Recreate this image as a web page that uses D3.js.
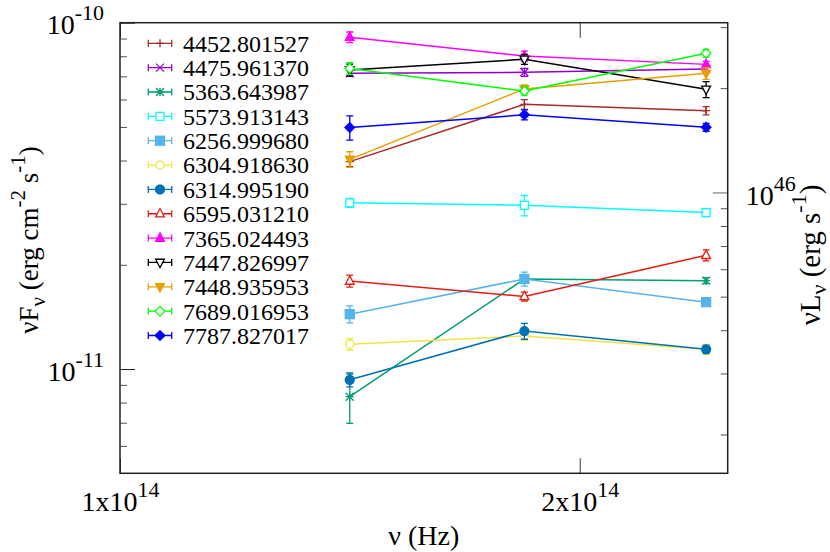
<!DOCTYPE html>
<html><head><meta charset="utf-8">
<script src="https://cdn.jsdelivr.net/npm/d3@7/dist/d3.min.js"></script>
<style>
body{margin:0;background:#fff}
svg{display:block}
</style>
</head><body>
<svg id="chart" width="830" height="552" font-family="'Liberation Serif', 'Times New Roman', Times, serif"></svg>
<script>
// ---------- data ----------
const categories = ["4452.801527","4475.961370","5363.643987","5573.913143","6256.999680","6304.918630","6314.995190","6595.031210","7365.024493","7447.826997","7448.935953","7689.016953","7787.827017"];
const freqHz = [1.414e14, 1.84e14, 2.42e14];
const f4452 = [3.97e-11, 5.81e-11, 5.57e-11], e4452 = [1.3e-12, 1.9e-12, 1.5e-12];
const f4475 = [7.14e-11, 7.19e-11, 7.35e-11], e4475 = [1.4e-12, 1.9e-12, 1.5e-12];
const f5363 = [8.32e-12, 1.82e-11, 1.80e-11], e5363 = [1.35e-12, 0.48e-12, 0.36e-12];
const f5573 = [3.02e-11, 2.97e-11, 2.83e-11], e5573 = [0.9e-12, 2.0e-12, 0.75e-12];
const f6256 = [1.44e-11, 1.82e-11, 1.56e-11], e6256 = [0.81e-12, 0.85e-12, 0.4e-12];
const f6304 = [1.18e-11, 1.245e-11, 1.14e-11], e6304 = [0.45e-12, 0.33e-12, 0.38e-12];
const f6314 = [9.31e-12, 1.287e-11, 1.14e-11], e6314 = [0.43e-12, 0.68e-12, 0.3e-12];
const f6595 = [1.795e-11, 1.62e-11, 2.13e-11], e6595 = [0.72e-12, 0.48e-12, 0.78e-12];
const f7365 = [9.08e-11, 8.01e-11, 7.58e-11], e7365 = [3.2e-12, 2.66e-12, 1.5e-12];
const f7447 = [7.30e-11, 7.84e-11, 6.42e-11], e7447 = [2.9e-12, 2.6e-12, 3.4e-12];
const f7448 = [4.03e-11, 6.44e-11, 7.14e-11], e7448 = [2.1e-12, 1.7e-12, 2.8e-12];
const f7689 = [7.38e-11, 6.35e-11, 8.16e-11], e7689 = [2.9e-12, 1.7e-12, 2.2e-12];
const f7787 = [4.98e-11, 5.42e-11, 4.99e-11], e7787 = [4.0e-12, 1.8e-12, 1.3e-12];
const fluxes = [f4452,f4475,f5363,f5573,f6256,f6304,f6314,f6595,f7365,f7447,f7448,f7689,f7787];
const errors = [e4452,e4475,e5363,e5573,e6256,e6304,e6314,e6595,e7365,e7447,e7448,e7689,e7787];

const xTickValues = [1e14, 2e14];
const xTickLabels = [["1x10","14"],["2x10","14"]];
const yTickValues = [1e-11, 1e-10];
const yTickLabels = [["10","-11"],["10","-10"]];
const yMinorTicks = [6e-12,7e-12,8e-12,9e-12,2e-11,3e-11,4e-11,5e-11,6e-11,7e-11,8e-11,9e-11];
const y2TickValues = [1e46];
const y2TickLabels = [["10","46"]];
const y2MinorTicks = [2e45,3e45,4e45,5e45,6e45,7e45,8e45,9e45,2e46,3e46];
const lumFactor = 3.09e56;

// ---------- styles ----------
const colors = ["#a52a2a","#9400d3","#009e73","#00ffff","#56b4e9","#f0e442","#0072b2","#e51e10","#ff00ff","#000000","#e69f00","#00ff00","#0000ff"];
const markers = ["plus","cross","star","box","boxF","circle","circleF","tri","triF","triD","triDF","dia","diaF"];

// ---------- layout ----------
const L = 120, R = 727.7, T = 22.7, B = 473.3;
const svg = d3.select("#chart");
const x = d3.scaleLog().domain([1e14, 2.5e14]).range([L, R]);
const y = d3.scaleLog().domain([5e-12, 1e-10]).range([B, T]);
const y2 = d3.scaleLog().domain([5e-12*lumFactor, 1e-10*lumFactor]).range([B, T]);

const TF = 28, SUP = 22;

function supText(sel, parts) {
  sel.append("tspan").text(parts[0]);
  sel.append("tspan").attr("font-size", SUP).attr("dy", -14).text(parts[1]);
}

function styleAxis(g, color) {
  g.attr("font-family", null).attr("font-size", null);
  g.select(".domain").remove();
  g.selectAll(".tick line").attr("stroke", color).attr("stroke-width", 1);
  g.selectAll(".tick text").remove();
}
// left major
const gl = svg.append("g").attr("transform", `translate(${L},0)`)
  .call(d3.axisLeft(y).tickValues(yTickValues).tickSize(-15).tickFormat(""));
styleAxis(gl, "#222");
gl.selectAll(".tick").append("text").attr("x", -16).attr("y", 11)
  .attr("text-anchor", "end").attr("font-size", TF).attr("fill", "#000")
  .each(function(d, i){ supText(d3.select(this), yTickLabels[i]); });
// left minor
const glm = svg.append("g").attr("transform", `translate(${L},0)`)
  .call(d3.axisLeft(y).tickValues(yMinorTicks).tickSize(-7).tickFormat(""));
styleAxis(glm, "#555");
// right major
const gr = svg.append("g").attr("transform", `translate(${R},0)`)
  .call(d3.axisRight(y2).tickValues(y2TickValues).tickSize(-15).tickFormat(""));
styleAxis(gr, "#999");
gr.selectAll(".tick line").attr("stroke-width", 1.5);
gr.selectAll(".tick").append("text").attr("x", 18).attr("y", 12)
  .attr("text-anchor", "start").attr("font-size", TF).attr("fill", "#000")
  .each(function(d, i){ supText(d3.select(this), y2TickLabels[i]); });
const grm = svg.append("g").attr("transform", `translate(${R},0)`)
  .call(d3.axisRight(y2).tickValues(y2MinorTicks).tickSize(-7).tickFormat(""));
styleAxis(grm, "#555");
// bottom
const gb = svg.append("g").attr("transform", `translate(0,${B})`)
  .call(d3.axisBottom(x).tickValues(xTickValues).tickSize(-15).tickFormat(""));
styleAxis(gb, "#333");
gb.selectAll(".tick").append("text").attr("x", 0).attr("y", 38)
  .attr("text-anchor", "middle").attr("font-size", TF).attr("fill", "#000")
  .each(function(d, i){ supText(d3.select(this), xTickLabels[i]); });
// top
const gt = svg.append("g").attr("transform", `translate(0,${T})`)
  .call(d3.axisTop(x).tickValues(xTickValues).tickSize(-15).tickFormat(""));
styleAxis(gt, "#333");

// border
svg.append("rect").attr("x", L).attr("y", T).attr("width", R - L).attr("height", B - T)
  .attr("fill", "none").attr("stroke", "#222").attr("stroke-width", 1.5);

// axis labels
const LF = 27, LS = 21;
const yl = svg.append("text").attr("transform", "translate(38,240) rotate(-90)")
  .attr("text-anchor", "middle").attr("font-size", LF);
yl.append("tspan").text("νF");
yl.append("tspan").attr("font-size", LS).attr("dy", 7).text("ν");
yl.append("tspan").attr("dy", -7).text(" (erg cm");
yl.append("tspan").attr("font-size", LS).attr("dy", -13).text("-2");
yl.append("tspan").attr("dy", 13).text(" s");
yl.append("tspan").attr("font-size", LS).attr("dy", -13).text("-1");
yl.append("tspan").attr("dy", 13).text(")");

const y2l = svg.append("text").attr("transform", "translate(820,255) rotate(-90)")
  .attr("text-anchor", "middle").attr("font-size", 29);
y2l.append("tspan").text("νL");
y2l.append("tspan").attr("font-size", 22).attr("dy", 6).text("ν");
y2l.append("tspan").attr("dy", -6).text(" (erg s");
y2l.append("tspan").attr("font-size", 22).attr("dy", -14).text("-1");
y2l.append("tspan").attr("dy", 14).text(")");

svg.append("text").attr("x", (L + R) / 2).attr("y", 545).attr("text-anchor", "middle")
  .attr("font-size", TF).text("ν (Hz)");

// markers
function drawMarker(g, type, color) {
  const s = 4;
  const st = (p) => p.attr("stroke", color).attr("stroke-width", 1.3);
  switch (type) {
    case "plus": st(g.append("path").attr("fill","none").attr("d", `M${-s},0H${s}M0,${-s}V${s}`)); break;
    case "cross": st(g.append("path").attr("fill","none").attr("d", `M${-s},${-s}L${s},${s}M${-s},${s}L${s},${-s}`)); break;
    case "star": st(g.append("path").attr("fill","none").attr("d", `M${-s},0H${s}M0,${-s}V${s}M${-s},${-s}L${s},${s}M${-s},${s}L${s},${-s}`)); break;
    case "box": st(g.append("rect").attr("x",-s).attr("y",-s).attr("width",2*s).attr("height",2*s).attr("fill","#fff")); break;
    case "boxF": st(g.append("rect").attr("x",-s-0.5).attr("y",-s-0.5).attr("width",2*s+1).attr("height",2*s+1).attr("fill",color)); break;
    case "circle": st(g.append("circle").attr("r",s).attr("fill","#fff")); break;
    case "circleF": st(g.append("circle").attr("r",s+0.5).attr("fill",color)); break;
    case "tri": st(g.append("path").attr("fill","#fff").attr("d", `M0,${-s*1.3}L${s*1.1},${s*0.8}L${-s*1.1},${s*0.8}Z`)); break;
    case "triF": st(g.append("path").attr("fill",color).attr("d", `M0,${-s*1.3}L${s*1.1},${s*0.8}L${-s*1.1},${s*0.8}Z`)); break;
    case "triD": st(g.append("path").attr("fill","#fff").attr("d", `M0,${s*1.3}L${s*1.1},${-s*0.8}L${-s*1.1},${-s*0.8}Z`)); break;
    case "triDF": st(g.append("path").attr("fill",color).attr("d", `M0,${s*1.3}L${s*1.1},${-s*0.8}L${-s*1.1},${-s*0.8}Z`)); break;
    case "dia": st(g.append("path").attr("fill","#fff").attr("d", `M0,${-s*1.2}L${s*1.2},0L0,${s*1.2}L${-s*1.2},0Z`)); break;
    case "diaF": st(g.append("path").attr("fill",color).attr("d", `M0,${-s*1.2}L${s*1.2},0L0,${s*1.2}L${-s*1.2},0Z`)); break;
  }
}

// series
const line = d3.line().x(d => x(d.f)).y(d => y(d.v));
const cap = 3.5;
categories.forEach((name, i) => {
  const pts = freqHz.map((f, j) => ({ f, v: fluxes[i][j], e: errors[i][j] }));
  const g = svg.append("g");
  const c = colors[i];
  g.append("path").datum(pts).attr("d", line).attr("fill", "none").attr("stroke", c).attr("stroke-width", 1.5);
  pts.forEach(p => {
    const px = x(p.f), yt = y(p.v + p.e), yb = y(p.v - p.e);
    g.append("path").attr("fill", "none").attr("stroke", c).attr("stroke-width", 1.3)
      .attr("d", `M${px},${yt}V${yb}M${px - cap},${yt}H${px + cap}M${px - cap},${yb}H${px + cap}`);
    const mg = g.append("g").attr("transform", `translate(${px},${y(p.v)})`);
    drawMarker(mg, markers[i], c);
  });
});

// legend
const lg = svg.append("g");
categories.forEach((name, i) => {
  const ry = 43.3 + i * 24.35;
  const c = colors[i];
  const row = lg.append("g").attr("transform", `translate(0,${ry})`);
  row.append("path").attr("fill", "none").attr("stroke", c).attr("stroke-width", 1.3)
    .attr("d", `M148.3,0H171.7M148.3,-3.5V3.5M171.7,-3.5V3.5`);
  const mg = row.append("g").attr("transform", "translate(160,0)");
  drawMarker(mg, markers[i], c);
  row.append("text").attr("x", 183).attr("y", 8.4).attr("font-size", 24).text(name);
});
</script>
</body></html>
